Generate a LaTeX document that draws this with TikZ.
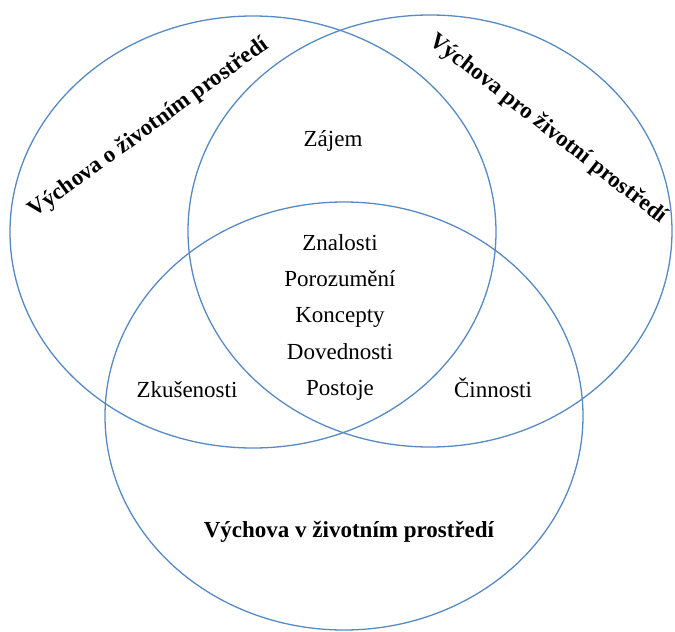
\documentclass[tikz,border=0pt]{standalone}
\usepackage{fontspec}
\setmainfont{Liberation Serif}
\usetikzlibrary{shapes.geometric}
\definecolor{ringblue}{RGB}{88,138,194}

\begin{document}
\begin{tikzpicture}[x=1pt, y=-1pt,
        ring/.style={ellipse, draw=ringblue, line width=1.3pt, inner sep=0pt},
        lbl/.style={font=\fontsize{23}{27}\selectfont, anchor=base, inner sep=0pt},
        head/.style={font=\fontsize{23}{27}\selectfont\bfseries, inner sep=0pt}]
        \useasboundingbox (0,0) rectangle (675,632);

        % the three sets
        \node[ring, minimum width=486, minimum height=432] (oset) at (253,232) {};
        \node[ring, minimum width=484, minimum height=432] (proset) at (430,231) {};
        \node[ring, minimum width=478, minimum height=428] (vset) at (344,416) {};

        % set titles
        \node[head, rotate=36] (otitle) at (149,128) {Výchova o životním prostředí};
        \node[head, rotate=-38] (protitle) at (548,129) {Výchova pro životní prostředí};
        \node[head, anchor=base] (vtitle) at (349,537) {Výchova v životním prostředí};

        % overlaps
        \node[lbl] (zajem) at (333,146) {Zájem};
        \node[lbl] (zkus) at (187,397) {Zkušenosti};
        \node[lbl] (cinn) at (493,397) {Činnosti};
        \foreach \w [count=\i] in {Znalosti,Porozumění,Koncepty,Dovednosti,Postoje}
            \node[lbl] (core\i) at (340,{250+36.4*(\i-1)}) {\w};

\end{tikzpicture}
\end{document}
